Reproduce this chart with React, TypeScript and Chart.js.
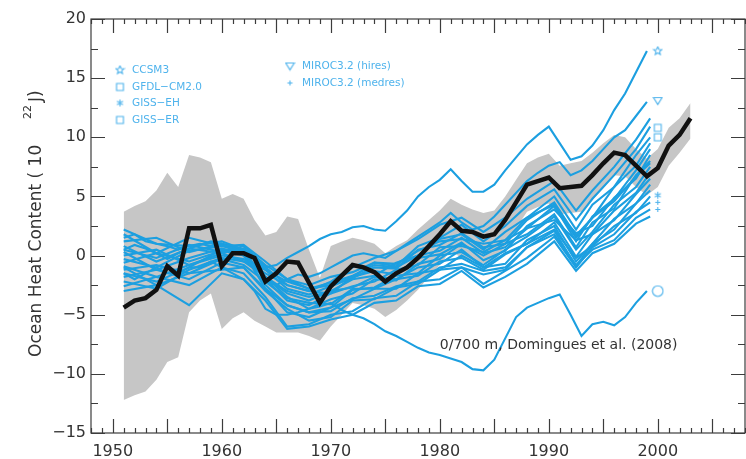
import React, { useEffect, useRef } from 'react';
import { Chart, registerables } from 'chart.js';
Chart.register(...registerables);

// ---------- Observations (Domingues et al. 2008) ----------
const obsYears = [1951,1952,1953,1954,1955,1956,1957,1958,1959,1960,1961,1962,1963,1964,1965,1966,1967,1968,1969,1970,1971,1972,1973,1974,1975,1976,1977,1978,1979,1980,1981,1982,1983,1984,1985,1986,1987,1988,1989,1990,1991,1992,1993,1994,1995,1996,1997,1998,1999,2000,2001,2002,2003];
const obsOHC = [-4.4,-3.8,-3.6,-2.9,-0.9,-1.7,2.3,2.3,2.6,-0.9,0.2,0.2,-0.2,-2.2,-1.5,-0.5,-0.6,-2.3,-4.0,-2.6,-1.7,-0.8,-1.0,-1.4,-2.2,-1.5,-1.0,-0.2,0.8,1.8,2.9,2.1,2.0,1.6,1.8,3.0,4.5,6.0,6.3,6.6,5.7,5.8,5.9,6.8,7.8,8.7,8.5,7.6,6.7,7.4,9.3,10.2,11.6];
const bandUpper = [3.7,4.2,4.6,5.5,7.0,5.8,8.5,8.3,7.9,4.8,5.2,4.8,3.0,1.7,2.0,3.3,3.1,0.5,-1.9,0.8,1.2,1.5,1.3,1.0,0.2,0.8,1.3,2.2,3.0,3.8,4.8,4.3,3.9,3.6,3.8,5.0,6.4,7.8,8.3,8.6,7.6,7.8,8.0,8.7,9.5,10.2,10.0,9.0,8.2,9.0,10.8,11.6,12.9];
const bandLower = [-12.2,-11.8,-11.5,-10.5,-9.0,-8.6,-4.8,-3.8,-3.2,-6.2,-5.3,-4.8,-5.5,-6.0,-6.5,-6.5,-6.5,-6.8,-7.2,-6.0,-5.0,-4.0,-4.2,-4.5,-5.2,-4.6,-3.8,-2.9,-1.8,-0.8,0.4,-0.2,-0.4,-0.7,-0.5,0.8,2.3,3.7,4.1,4.4,3.5,3.6,3.7,4.7,5.7,6.8,6.7,5.8,5.1,5.8,7.6,8.7,9.9];

// ---------- Model runs with annual values ----------
const annualYears = [1951,1952,1953,1954,1955,1956,1957,1958,1959,1960,1961,1962,1963,1964,1965,1966,1967,1968,1969,1970,1971,1972,1973,1974,1975,1976,1977,1978,1979,1980,1981,1982,1983,1984,1985,1986,1987,1988,1989,1990,1991,1992,1993,1994,1995,1996,1997,1998,1999];
const ccsm3Run = [1.5,1.8,1.2,1.0,0.8,0.5,0.8,1.0,0.8,1.0,0.8,0.5,0.0,-1.0,-0.8,-0.2,0.3,0.8,1.4,1.8,2.0,2.4,2.5,2.2,2.1,2.9,3.8,5.0,5.8,6.4,7.3,6.3,5.4,5.4,6.0,7.2,8.3,9.4,10.2,10.9,9.5,8.1,8.4,9.3,10.6,12.3,13.7,15.5,17.3];
const mirocHiresRun = [0.5,0.9,0.6,0.2,-0.3,0.2,0.6,0.9,1.2,1.0,0.7,0.4,-0.8,-2.2,-2.5,-2.0,-1.6,-1.8,-1.5,-1.0,-0.5,0.0,0.2,0.0,-0.2,0.4,1.0,1.6,2.2,2.8,3.6,2.8,2.2,2.5,3.3,4.3,5.3,6.3,7.0,7.6,7.9,6.8,7.2,8.0,9.0,10.0,10.6,11.8,13.0];
const lowRun = [-1.5,-2.0,-1.5,-1.0,-1.5,-1.5,-1.0,-1.0,-0.5,-1.0,-1.5,-2.0,-3.0,-4.5,-5.0,-5.0,-4.8,-4.5,-4.3,-4.0,-4.6,-5.0,-5.3,-5.8,-6.4,-6.8,-7.3,-7.8,-8.2,-8.4,-8.7,-9.0,-9.6,-9.7,-8.8,-7.0,-5.2,-4.4,-4.0,-3.6,-3.3,-5.0,-6.8,-5.8,-5.6,-5.9,-5.2,-4.0,-3.0];

// ---------- Other model runs ----------
const runYears = [1951,1954,1957,1960,1962,1964,1966,1968,1970,1972,1974,1976,1978,1980,1982,1984,1986,1988,1990.5,1992.5,1994,1996,1998,1999.3];
const run01 = [2.2,1.0,0.8,1.2,0.5,-1.0,-2.5,-3.0,-2.2,-1.0,-0.2,0.4,1.4,2.6,3.2,2.0,3.2,4.8,6.3,3.8,5.5,7.5,9.8,11.6];
const run02 = [1.8,0.2,1.5,0.8,0.9,-0.5,-2.0,-2.8,-2.5,-1.8,-0.6,-0.9,0.8,1.5,2.6,1.2,2.5,4.2,5.6,3.0,4.8,6.8,9.0,10.9];
const run03 = [1.2,1.5,0.3,1.0,0.0,-1.8,-3.2,-3.8,-3.0,-2.0,-1.7,-0.6,0.0,1.4,1.8,0.5,2.0,3.2,5.0,2.2,4.3,5.8,8.5,10.0];
const run04 = [0.8,-0.5,0.6,0.2,0.6,-1.2,-2.8,-3.3,-2.6,-1.9,-1.0,-1.1,0.5,0.9,1.9,0.7,1.0,3.0,4.5,1.7,3.2,5.8,7.6,9.5];
const run05 = [0.3,-1.2,-0.2,0.6,0.2,-2.0,-3.8,-4.2,-3.2,-2.6,-2.2,-1.2,-0.8,0.7,0.8,0.3,1.3,2.3,4.2,1.2,3.3,4.8,7.2,9.0];
const run06 = [0.0,0.5,-0.8,0.0,-0.3,-1.5,-2.5,-3.0,-3.2,-1.8,-1.3,-1.6,-0.2,0.1,1.1,-0.4,0.4,2.5,3.9,1.9,2.5,4.9,6.5,8.5];
const run07 = [-0.3,-1.0,0.4,0.8,0.3,-1.8,-3.5,-4.5,-3.7,-3.2,-2.0,-2.1,-0.7,-0.3,1.0,0.0,1.0,1.8,3.5,0.7,2.8,4.0,6.8,8.0];
const run08 = [-0.6,0.2,-0.5,0.4,0.0,-2.5,-4.2,-4.8,-4.4,-2.9,-2.7,-1.7,-1.5,0.0,0.3,-0.8,0.5,1.6,3.3,0.5,2.0,4.3,5.8,7.5];
const run09 = [-0.9,-1.8,-0.8,0.2,-0.5,-1.2,-2.2,-2.8,-2.3,-1.7,-0.8,-1.0,0.0,0.4,1.5,0.2,0.7,2.3,3.0,1.3,1.8,3.8,5.3,7.0];
const run10 = [-1.2,-0.8,-1.5,-0.3,-0.8,-2.2,-3.6,-4.0,-4.1,-2.8,-2.8,-2.0,-1.7,-0.5,-0.2,-1.2,0.1,1.0,2.8,-0.1,1.8,3.0,5.2,6.5];
const run11 = [-1.5,-2.2,-1.0,0.5,0.3,-2.8,-4.8,-5.2,-4.4,-3.7,-2.8,-2.8,-1.5,-1.2,0.0,-1.0,-0.7,1.3,2.5,-0.5,1.0,3.1,4.4,6.0];
const run12 = [-1.8,-1.2,-2.0,-0.6,-1.0,-3.0,-4.5,-5.5,-5.2,-3.8,-3.7,-2.7,-2.4,-1.2,-1.0,-1.6,-1.2,0.7,2.1,-0.9,1.0,2.2,4.4,5.5];
const run13 = [-2.2,-2.8,-1.2,-0.2,-0.5,-1.8,-3.0,-3.5,-3.0,-2.7,-1.8,-2.0,-1.0,-0.7,0.5,-1.0,0.2,1.0,2.2,-0.2,0.8,2.5,3.6,5.0];
const run14 = [-2.6,-1.8,-2.5,-1.0,-1.5,-3.5,-6.0,-5.8,-5.0,-4.7,-3.6,-3.4,-2.2,-2.0,-1.0,-2.4,-1.3,-0.2,1.6,-1.0,0.7,1.8,3.7,4.5];
const run15 = [-3.0,-2.5,-1.5,-1.2,-1.0,-2.8,-4.2,-4.8,-4.7,-3.6,-3.4,-2.6,-2.2,-1.0,-0.7,-1.3,-1.0,0.7,1.8,-0.8,0.5,1.3,3.2,3.9];
const run16 = [-1.0,-2.5,-4.2,-1.5,-2.0,-3.8,-6.2,-6.0,-5.4,-5.0,-4.0,-3.8,-2.6,-2.4,-1.3,-2.7,-1.8,-0.7,1.2,-1.3,0.2,1.0,2.7,3.3];
const run17 = [0.5,-0.2,0.9,0.3,0.8,-0.8,-2.0,-2.5,-1.8,-1.4,-0.6,-0.7,0.4,1.2,1.4,1.0,1.3,3.2,4.3,1.5,3.2,4.6,6.7,7.8];
const otherRuns = [run01,run02,run03,run04,run05,run06,run07,run08,run09,run10,run11,run12,run13,run14,run15,run16,run17];

// ---------- Axis ticks, end-of-run symbols and legend ----------
const xTickLabels = [1950, 1960, 1970, 1980, 1990, 2000];
const yTickLabels = [-15, -10, -5, 0, 5, 10, 15, 20];
const endMarkerYear = 2000;
const endMarkerValues = [17.3, 13.1, 10.8, 10.0, 5.1, 4.5, 3.9, -3.0];
const endMarkerKinds = ['star', 'triangle', 'square', 'square', 'asterisk', 'plus', 'plus', 'circle'];
const legendLabels = ['CCSM3', 'GFDL\u2212CM2.0', 'GISS\u2212EH', 'GISS\u2212ER', 'MIROC3.2 (hires)', 'MIROC3.2 (medres)'];
const legendKinds = ['star', 'square', 'asterisk', 'square', 'triangle', 'plus'];
const annotationText = '0/700 m, Domingues et al. (2008)';

const BLUE = '#1c9fe0';
const LIGHT_BLUE = '#4fb3ec';
const FONT = "'DejaVu Sans', sans-serif";

function makeMarker(kind: string, size: number): HTMLCanvasElement {
  const c = document.createElement('canvas');
  c.width = size; c.height = size;
  const g = c.getContext('2d')!;
  g.strokeStyle = LIGHT_BLUE;
  g.lineWidth = 1.1;
  const m = size / 2;
  const r = size / 2 - 1.2;
  g.beginPath();
  if (kind === 'star') {
    for (let i = 0; i <= 10; i++) {
      const a = -Math.PI / 2 + (i * Math.PI) / 5;
      const rr = i % 2 ? r * 0.45 : r;
      const px = m + rr * Math.cos(a), py = m + rr * Math.sin(a);
      if (i === 0) g.moveTo(px, py); else g.lineTo(px, py);
    }
  } else if (kind === 'square') {
    g.rect(m - r * 0.8, m - r * 0.8, r * 1.6, r * 1.6);
  } else if (kind === 'triangle') {
    g.moveTo(m - r, m - r * 0.7);
    g.lineTo(m + r, m - r * 0.7);
    g.lineTo(m, m + r * 0.9);
    g.closePath();
  } else if (kind === 'asterisk') {
    for (let i = 0; i < 3; i++) {
      const a = (i * Math.PI) / 3 + Math.PI / 2;
      g.moveTo(m + r * 0.8 * Math.cos(a), m + r * 0.8 * Math.sin(a));
      g.lineTo(m - r * 0.8 * Math.cos(a), m - r * 0.8 * Math.sin(a));
    }
  } else if (kind === 'plus') {
    g.moveTo(m - r * 0.6, m); g.lineTo(m + r * 0.6, m);
    g.moveTo(m, m - r * 0.6); g.lineTo(m, m + r * 0.6);
  } else {
    g.arc(m, m, r, 0, Math.PI * 2);
  }
  g.stroke();
  return c;
}

export default function App() {
  const ref = useRef<HTMLCanvasElement | null>(null);
  useEffect(() => {
    const canvas = ref.current!;
    const markerCache: Record<string, HTMLCanvasElement> = {};
    const getMarker = (k: string, s: number) => {
      const key = k + s;
      if (!markerCache[key]) markerCache[key] = makeMarker(k, s);
      return markerCache[key];
    };

    const frame = {
      id: 'frame',
      afterDatasetsDraw(chart: any) {
        const { ctx, chartArea: a, scales } = chart;
        const x = scales.x, y = scales.y;
        ctx.save();
        ctx.strokeStyle = '#3c3c3c';
        ctx.lineWidth = 1.2;
        ctx.strokeRect(a.left, a.top, a.right - a.left, a.bottom - a.top);
        ctx.beginPath();
        for (let yr = Math.ceil(x.min); yr <= x.max; yr++) {
          const px = Math.round(x.getPixelForValue(yr)) + 0.5;
          const len = yr % 5 === 0 ? 14 : 5;
          ctx.moveTo(px, a.bottom); ctx.lineTo(px, a.bottom - len);
          ctx.moveTo(px, a.top); ctx.lineTo(px, a.top + len);
        }
        for (let v = y.min; v <= y.max; v += 2.5) {
          const py = Math.round(y.getPixelForValue(v)) + 0.5;
          const len = v % 5 === 0 ? 14 : 7;
          ctx.moveTo(a.left, py); ctx.lineTo(a.left + len, py);
          ctx.moveTo(a.right, py); ctx.lineTo(a.right - len, py);
        }
        ctx.stroke();
        ctx.restore();
      },
      afterDraw(chart: any) {
        const { ctx, scales } = chart;
        ctx.save();
        // y-axis title
        ctx.translate(37, 357);
        ctx.rotate(-Math.PI / 2);
        ctx.fillStyle = '#333';
        ctx.textBaseline = 'middle';
        ctx.textAlign = 'left';
        ctx.font = `17px ${FONT}`;
        ctx.fillText('Ocean Heat Content ( 10', 0, 0);
        ctx.font = `11px ${FONT}`;
        ctx.fillText('22', 238, -9);
        ctx.font = `17px ${FONT}`;
        ctx.fillText('J)', 255, 0);
        ctx.restore();

        // annotation
        ctx.save();
        ctx.fillStyle = '#333';
        ctx.font = `14px ${FONT}`;
        ctx.textBaseline = 'middle';
        ctx.fillText(annotationText, scales.x.getPixelForValue(1980), scales.y.getPixelForValue(-7.6));
        ctx.restore();

        // legend
        ctx.save();
        ctx.fillStyle = LIGHT_BLUE;
        ctx.font = `10.5px ${FONT}`;
        ctx.textBaseline = 'middle';
        const pos = [[120, 70], [120, 87], [120, 103], [120, 120], [290, 66], [290, 83]];
        legendLabels.forEach((lab, i) => {
          const [mx, my] = pos[i];
          const img = getMarker(legendKinds[i], 11);
          ctx.drawImage(img, mx - 5.5, my - 5.5);
          ctx.fillText(lab, mx + 12, my);
        });
        ctx.restore();
      },
    };

    const toXY = (xs: number[], ys: number[]) => xs.map((v, i) => ({ x: v, y: ys[i] }));

    const runDatasets: any[] = [
      ...otherRuns.map((r) => ({ data: toXY(runYears, r) })),
      { data: toXY(annualYears, lowRun) },
      { data: toXY(annualYears, mirocHiresRun) },
      { data: toXY(annualYears, ccsm3Run) },
    ].map((d) => ({
      ...d,
      borderColor: BLUE,
      borderWidth: 2.1,
      pointRadius: 0,
      fill: false,
      tension: 0,
    }));

    const chart = new Chart(canvas, {
      type: 'line',
      data: {
        datasets: [
          {
            data: toXY(obsYears, obsOHC),
            borderColor: '#111',
            borderWidth: 4.5,
            pointRadius: 0,
            fill: false,
            borderJoinStyle: 'miter',
          } as any,
          {
            data: endMarkerValues.map((v) => ({ x: endMarkerYear, y: v })),
            showLine: false,
            pointRadius: 6,
            pointStyle: endMarkerKinds.map((k) => getMarker(k, k === 'circle' ? 13 : 11)),
          } as any,
          ...runDatasets,
          {
            data: toXY(obsYears, bandUpper),
            borderWidth: 0,
            pointRadius: 0,
            backgroundColor: '#c6c6c6',
            fill: '+1',
          },
          {
            data: toXY(obsYears, bandLower),
            borderWidth: 0,
            pointRadius: 0,
            fill: false,
          },
        ],
      },
      options: {
        animation: false,
        responsive: false,
        devicePixelRatio: 1,
        layout: { autoPadding: false, padding: { top: 19, right: 1, left: 0, bottom: 0 } },
        plugins: { legend: { display: false }, tooltip: { enabled: false } },
        scales: {
          x: {
            type: 'linear',
            min: 1948,
            max: 2008,
            grid: { display: false, drawTicks: false },
            border: { display: false },
            afterBuildTicks: (s: any) => { s.ticks = xTickLabels.map((v) => ({ value: v })); },
            ticks: {
              autoSkip: false,
              maxRotation: 0,
              padding: 9,
              color: '#333',
              font: { family: FONT, size: 16 },
              callback: (v: any) => String(v),
            },
            afterFit: (s: any) => { s.height = 26; s.paddingLeft = 0; s.paddingRight = 0; },
          },
          y: {
            min: -15,
            max: 20,
            grid: { display: false, drawTicks: false },
            border: { display: false },
            afterBuildTicks: (s: any) => { s.ticks = yTickLabels.map((v) => ({ value: v })); },
            ticks: {
              padding: 5,
              color: '#333',
              font: { family: FONT, size: 16 },
              callback: (v: any) => (v < 0 ? '\u2212' + Math.abs(v) : String(v)),
            },
            afterFit: (s: any) => { s.width = 91; s.paddingTop = 0; s.paddingBottom = 0; },
          },
        },
      },
      plugins: [frame],
    } as any);
    return () => chart.destroy();
  }, []);

  return (
    <div style={{ position: 'absolute', left: 0, top: 0, width: 746, height: 459, background: '#fff' }}>
      <canvas ref={ref} width={746} height={459} style={{ width: 746, height: 459, display: 'block' }} />
    </div>
  );
}
